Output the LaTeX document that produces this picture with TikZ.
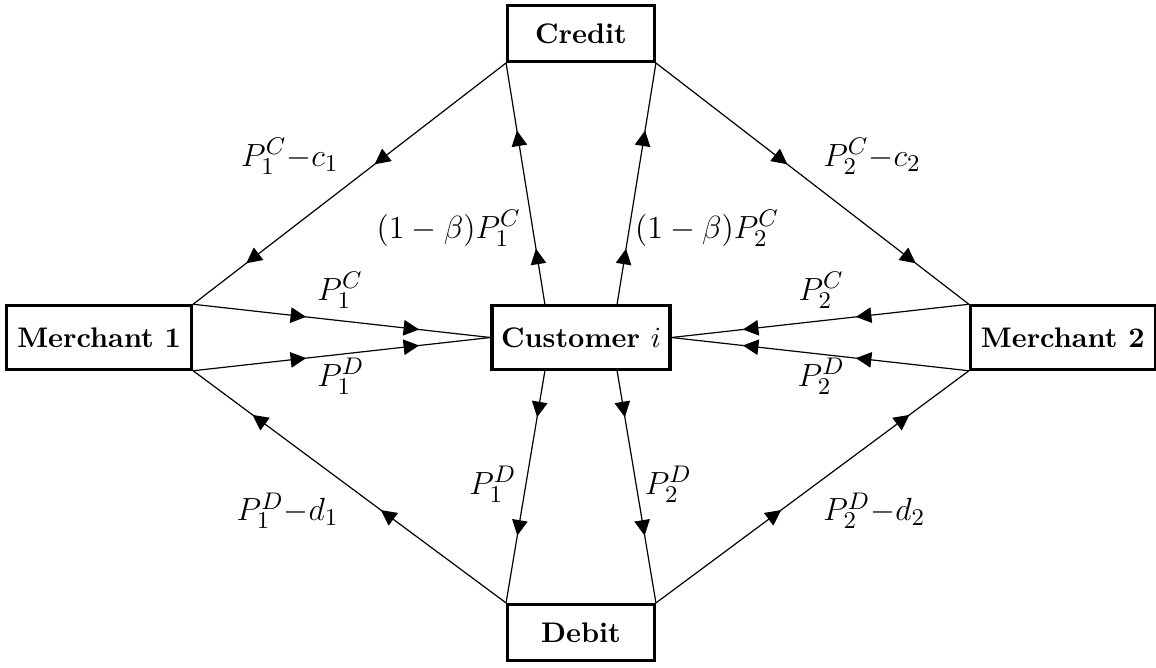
\documentclass[tikz,border=0pt]{standalone}
\usetikzlibrary{arrows.meta,decorations.markings,calc}
\begin{document}
\begin{tikzpicture}[
  box/.style={draw, very thick, font=\fontsize{10.6}{13}\selectfont\bfseries, minimum width=2.43cm, minimum height=0.833cm},
  conto/.style={box, minimum width=1.93cm, minimum height=0.733cm},
  lbl/.style={font=\fontsize{13}{15}\selectfont},
  frecce/.style 2 args={line width=0.45pt, postaction={decorate},
    decoration={markings,
      mark=at position #1 with {\arrow{Triangle[length=5.8pt,width=5.8pt]}},
      mark=at position #2 with {\arrow{Triangle[length=5.8pt,width=5.8pt]}}}}
]
\useasboundingbox (-7.645,-4.336) rectangle (7.566,4.441);
% nodi
\node[conto] (cred) at (0,4) {Credit};
\node[conto] (deb) at (0,-3.88) {Debit};
\node[box] (m1) at (-6.34,0) {Merchant 1};
\node[box] (m2) at (6.34,0) {Merchant 2};
\node[box, minimum width=2.34cm] (cust) at (0,0) {Customer $i$};
\coordinate (cn1) at ($(cust.north)+(-0.475,0)$);
\coordinate (cn2) at ($(cust.north)+(0.475,0)$);
\coordinate (cs1) at ($(cust.south)+(-0.475,0)$);
\coordinate (cs2) at ($(cust.south)+(0.475,0)$);
% credito
\draw[frecce={0.42}{0.83}] (cred.south west) -- (m1.north east);
\draw[frecce={0.42}{0.83}] (cred.south east) -- (m2.north west);
\draw[frecce={0.23}{0.72}] (cn1) -- (cred.south west);
\draw[frecce={0.23}{0.72}] (cn2) -- (cred.south east);
% negozi
\draw[frecce={0.38}{0.76}] (m1.north east) -- (cust.west);
\draw[frecce={0.38}{0.76}] (m1.south east) -- (cust.west);
\draw[frecce={0.38}{0.76}] (m2.north west) -- (cust.east);
\draw[frecce={0.38}{0.76}] (m2.south west) -- (cust.east);
% debito
\draw[frecce={0.2}{0.71}] (cs1) -- (deb.north west);
\draw[frecce={0.2}{0.71}] (cs2) -- (deb.north east);
\draw[frecce={0.40}{0.81}] (deb.north west) -- (m1.south east);
\draw[frecce={0.40}{0.81}] (deb.north east) -- (m2.south west);
% etichette
\node[lbl] (l1) at (-3.83, 2.38) {$P_1^C{-}c_1$};
\node[lbl] (l2) at (3.83, 2.38) {$P_2^C{-}c_2$};
\node[lbl] (l3) at (-1.74, 1.44) {$(1-\beta)P_1^C$};
\node[lbl] (l4) at (1.66, 1.44) {$(1-\beta)P_2^C$};
\node[lbl] (l5) at (-3.17, 0.62) {$P_1^C$};
\node[lbl] (l6) at (3.16, 0.62) {$P_2^C$};
\node[lbl] (l7) at (-3.16, -0.51) {$P_1^D$};
\node[lbl] (l8) at (3.16, -0.51) {$P_2^D$};
\node[lbl] (l9) at (-1.16, -1.93) {$P_1^D$};
\node[lbl] (l10) at (1.15, -1.93) {$P_2^D$};
\node[lbl] (l11) at (-3.86, -2.28) {$P_1^D{-}d_1$};
\node[lbl] (l12) at (3.86, -2.28) {$P_2^D{-}d_2$};
\end{tikzpicture}
\end{document}
